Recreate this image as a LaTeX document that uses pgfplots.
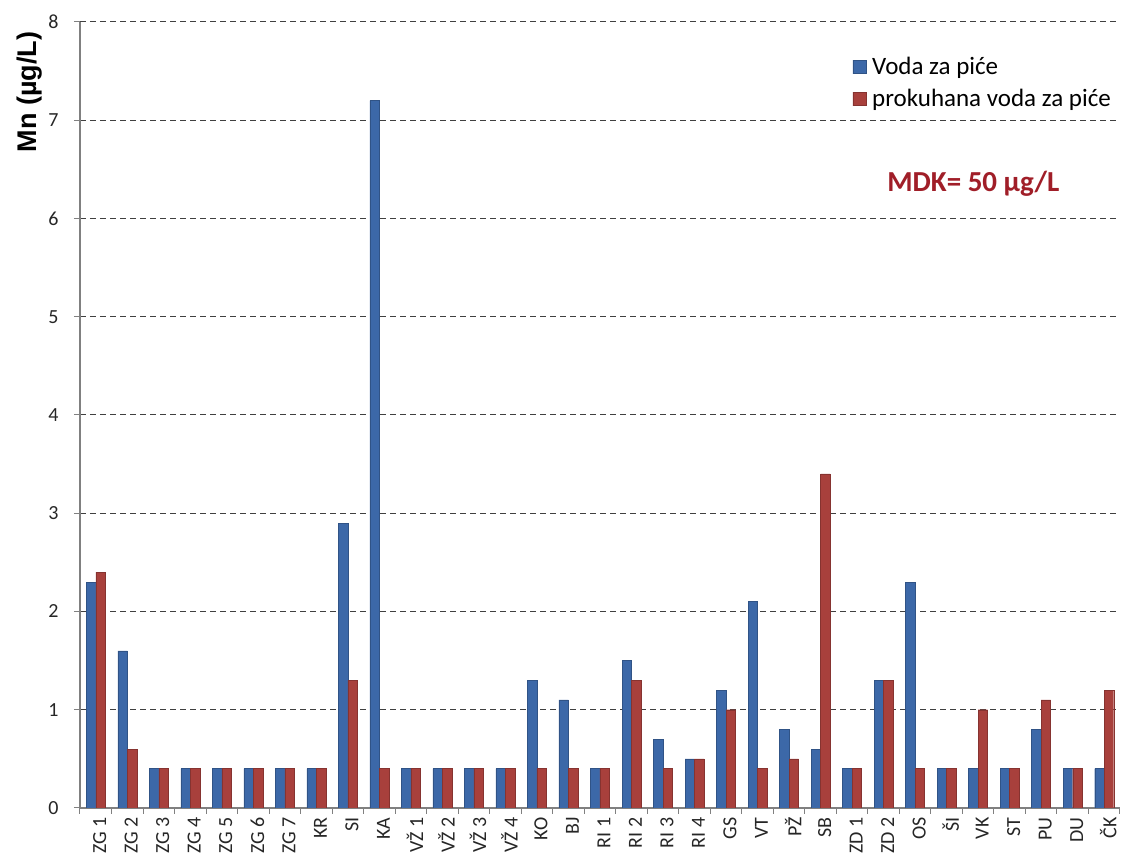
\documentclass[border=0pt]{standalone}
\usepackage{pgfplots}
\pgfplotsset{compat=1.18}
\usepackage{fontspec}
\setmainfont{Carlito}
\newfontfamily\arialfont{Liberation Sans}

\definecolor{blueD}{HTML}{3C68A8}
\definecolor{blueL}{HTML}{6494D8}
\definecolor{redD}{HTML}{A8403C}
\definecolor{redL}{HTML}{D86863}
\definecolor{mdkred}{HTML}{A01E28}

\pgfplotsset{
  sqlegend/.style={legend image code/.code={\draw[##1] (0pt,-6.5pt) rectangle (13pt,6.5pt);}},
}

\begin{document}
\begin{tikzpicture}
\begin{axis}[
    scale only axis,
    width=1040pt, height=786pt,
    ymin=0, ymax=8,
    ytick={0,...,8},
    xmin=-0.5, xmax=32.5,
    xtick={-0.5,0.5,...,32.5},
    x tick label as interval,
    xticklabels={ZG 1,ZG 2,ZG 3,ZG 4,ZG 5,ZG 6,ZG 7,KR,SI,KA,VŽ 1,VŽ 2,VŽ 3,VŽ 4,KO,BJ,RI 1,RI 2,RI 3,RI 4,GS,VT,PŽ,SB,ZD 1,ZD 2,OS,ŠI,VK,ST,PU,DU,ČK},
    x tick label style={rotate=90, anchor=east, font=\fontsize{20}{20}\selectfont, text=black!85, yshift=-4pt},
    y tick label style={font=\fontsize{20}{20}\selectfont, text=black!85, xshift=-12pt},
    /pgf/number format/assume math mode=true,
    axis lines=left,
    axis line style={-, draw=black!50, line width=1.2pt},
    tick align=outside,
    major tick length=6pt,
    tick style={draw=black!50, line width=1pt},
    ymajorgrids,
    major grid style={dash pattern=on 6pt off 4pt, draw=black!75, line width=1pt},
    ybar=0pt,
    bar width=9.5pt,
    legend cell align=left,
    legend style={draw=none, fill=none, at={(0.74,0.96)}, anchor=north west,
        font=\fontsize{25}{25}\selectfont, row sep=9pt,
        /tikz/every odd column/.append style={column sep=4pt}},
]
\addplot[draw=blueD!80!black, line width=0.4pt, left color=blueD, middle color=blueL, right color=blueD, sqlegend]
coordinates {
(0,2.3) (1,1.6) (2,0.4) (3,0.4) (4,0.4) (5,0.4) (6,0.4) (7,0.4) (8,2.9) (9,7.2)
(10,0.4) (11,0.4) (12,0.4) (13,0.4) (14,1.3) (15,1.1) (16,0.4) (17,1.5) (18,0.7) (19,0.5)
(20,1.2) (21,2.1) (22,0.8) (23,0.6) (24,0.4) (25,1.3) (26,2.3) (27,0.4) (28,0.4) (29,0.4)
(30,0.8) (31,0.4) (32,0.4)
};
\addlegendentry{Voda za piće}
\addplot[draw=redD!80!black, line width=0.4pt, left color=redD, middle color=redL, right color=redD, sqlegend]
coordinates {
(0,2.4) (1,0.6) (2,0.4) (3,0.4) (4,0.4) (5,0.4) (6,0.4) (7,0.4) (8,1.3) (9,0.4)
(10,0.4) (11,0.4) (12,0.4) (13,0.4) (14,0.4) (15,0.4) (16,0.4) (17,1.3) (18,0.4) (19,0.5)
(20,1.0) (21,0.4) (22,0.5) (23,3.4) (24,0.4) (25,1.3) (26,0.4) (27,0.4) (28,1.0) (29,0.4)
(30,1.1) (31,0.4) (32,1.2)
};
\addlegendentry{prokuhana voda za piće}
\node[font=\bfseries\fontsize{29}{29}\selectfont, text=mdkred] at (rel axis cs:0.859,0.794) {MDK= 50 µg/L};
\end{axis}
\node[rotate=90, font=\arialfont\bfseries\fontsize{27}{27}\selectfont] at (-50pt,716pt) {Mn (µg/L)};
\pgfresetboundingbox
\useasboundingbox (-80pt,-53pt) rectangle (1042pt,808pt);
\end{tikzpicture}
\end{document}
